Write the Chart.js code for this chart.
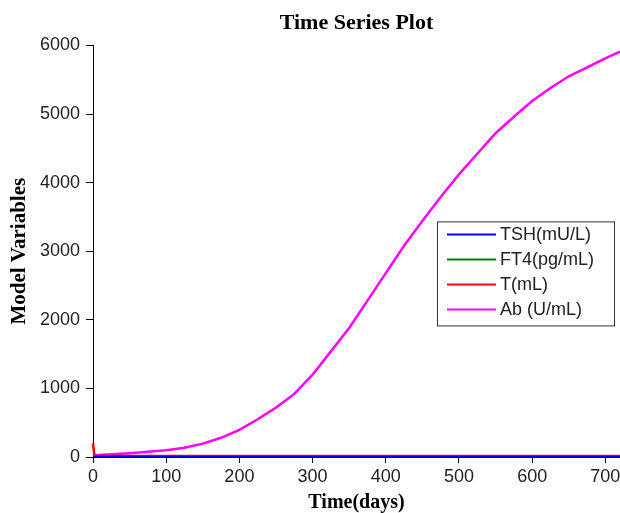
<!DOCTYPE html>
<html>
<head>
<meta charset="utf-8">
<script src="https://cdn.jsdelivr.net/npm/chart.js@4"></script>
<style>
  html, body { margin: 0; padding: 0; background: #fff; }
  #wrap { width: 620px; height: 513px; }
</style>
</head>
<body>
<div id="wrap"><canvas id="tsChart"></canvas></div>
<script>
// values
const days = [0, 2, 25, 50, 75, 100, 125, 150, 175, 200, 225, 250, 275, 300, 325, 350,
              375, 400, 425, 450, 475, 500, 525, 550, 575, 600, 625, 650, 675, 700, 720];
const tsh = [2, 2, 2, 2, 2, 2, 2, 2, 2, 2, 2, 2, 2, 2, 2, 2,
             2, 2, 2, 2, 2, 2, 2, 2, 2, 2, 2, 2, 2, 2, 2];
const ft4 = [1.5, 1.5, 1.5, 1.5, 1.5, 1.5, 1.5, 1.5, 1.5, 1.5, 1.5, 1.5, 1.5, 1.5, 1.5, 1.5,
             1.5, 1.5, 1.5, 1.5, 1.5, 1.5, 1.5, 1.5, 1.5, 1.5, 1.5, 1.5, 1.5, 1.5, 1.5];
const tMl = [200, 18, 16, 15, 15, 15, 15, 15, 15, 15, 15, 15, 15, 15, 15, 15,
             15, 15, 15, 15, 15, 15, 15, 15, 15, 15, 15, 15, 15, 15, 15];
const ab = [25, 26, 40, 55, 75, 100, 135, 195, 280, 395, 550, 720, 920, 1200, 1540, 1880,
            2280, 2680, 3080, 3440, 3790, 4120, 4420, 4720, 4960, 5190, 5380, 5550, 5680, 5810, 5910];
const seriesLabels = ["TSH(mU/L)", "FT4(pg/mL)", "T(mL)", "Ab (U/mL)"];
const xTicks = { min: 0, max: 720, step: 100 };
const yTicks = { min: 0, max: 6000, step: 1000 };

const toPoints = (vals) => days.map((d, i) => ({ x: d, y: vals[i] }));

const tickFont = { family: "'Liberation Sans', Arial, sans-serif", size: 18 };
const serifBold = { family: "'Liberation Serif', 'Times New Roman', serif", weight: 'bold' };

// legend box drawn inside the plot, like the original
const boxLegend = {
  id: 'boxLegend',
  afterDraw(chart) {
    const ctx = chart.ctx;
    const area = chart.chartArea;
    const left = area.right - 183, top = area.top + 176;
    const w = 177, h = 104;
    ctx.save();
    ctx.fillStyle = '#fff';
    ctx.fillRect(left, top, w, h);
    ctx.strokeStyle = '#333';
    ctx.lineWidth = 1;
    ctx.strokeRect(left + 0.5, top + 0.5, w, h);
    ctx.font = "18px 'Liberation Sans', Arial, sans-serif";
    ctx.textBaseline = 'middle';
    chart.data.datasets.forEach((ds, i) => {
      const y = top + 13 + i * 25;
      ctx.strokeStyle = ds.borderColor;
      ctx.lineWidth = 2;
      ctx.beginPath();
      ctx.moveTo(left + 10, y);
      ctx.lineTo(left + 59, y);
      ctx.stroke();
      ctx.fillStyle = '#222';
      ctx.fillText(ds.label, left + 63, y + 1);
    });
    ctx.restore();
  }
};

const ctx = document.getElementById('tsChart').getContext('2d');

const tsChart = new Chart(ctx, {
  type: 'line',
  data: {
    datasets: [
      { label: seriesLabels[0], data: toPoints(tsh), borderColor: '#0000ff', borderWidth: 2 },
      { label: seriesLabels[1], data: toPoints(ft4), borderColor: '#008000', borderWidth: 2 },
      { label: seriesLabels[2], data: toPoints(tMl), borderColor: '#ff0000', borderWidth: 2.5, clip: 4 },
      { label: seriesLabels[3], data: toPoints(ab), borderColor: '#ff00ff', borderWidth: 2.5 }
    ]
  },
  options: {
    responsive: true,
    maintainAspectRatio: false,
    animation: false,
    layout: { padding: { left: 0, right: 0, top: 0, bottom: 0 } },
    elements: { point: { radius: 0 }, line: { tension: 0, fill: false } },
    plugins: {
      legend: { display: false },
      tooltip: { enabled: false },
      title: {
        display: true,
        text: 'Time Series Plot',
        fullSize: false,
        color: '#000',
        font: { ...serifBold, size: 22 },
        padding: { top: 10, bottom: 9 }
      }
    },
    scales: {
      x: {
        type: 'linear',
        min: xTicks.min,
        max: xTicks.max,
        afterFit: (s) => { s.height = 56; s.paddingRight = 0; s.paddingLeft = 0; },
        ticks: { stepSize: xTicks.step, includeBounds: false, color: '#222', font: tickFont, padding: 3, maxRotation: 0 },
        grid: { drawOnChartArea: false, drawTicks: true, tickLength: 6, color: '#000' },
        border: { display: true, color: '#000' },
        title: { display: true, text: 'Time(days)', color: '#000', font: { ...serifBold, size: 20 }, padding: { top: 0, bottom: -2 } }
      },
      y: {
        min: yTicks.min,
        max: yTicks.max,
        afterFit: (s) => { s.width = 93; },
        ticks: { stepSize: yTicks.step, color: '#222', font: tickFont, padding: 6, callback: (v) => String(v) },
        grid: { drawOnChartArea: false, drawTicks: true, tickLength: 7, color: '#000' },
        border: { display: true, color: '#000' },
        title: { display: true, text: 'Model Variables', color: '#000', font: { ...serifBold, size: 21 }, padding: { top: 7, bottom: 0 } }
      }
    }
  },
  plugins: [boxLegend]
});
</script>
</body>
</html>
